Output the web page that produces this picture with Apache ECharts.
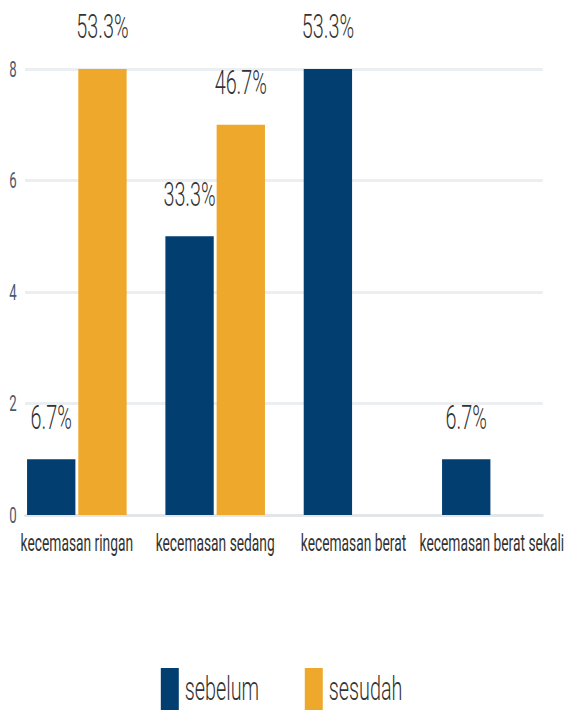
<!DOCTYPE html>
<html>
<head>
<meta charset="utf-8">
<script src="https://cdn.jsdelivr.net/npm/echarts@6/dist/echarts.min.js"></script>
<style>
html,body{margin:0;padding:0;overflow:hidden;background:#fff;width:566px;height:716px;}
#c{width:943.33px;height:716px;transform:scaleX(0.6);transform-origin:0 0;}
</style>
</head>
<body>
<div id="c"></div>
<script>
const categories = ['kecemasan ringan', 'kecemasan sedang', 'kecemasan berat', 'kecemasan berat sekali'];
const sebelum = [1, 5, 8, 1];
const sesudah = [8, 7, 0, 0];
const sebelumLabels = ['6.7%', '33.3%', '53.3%', '6.7%'];
const sesudahLabels = ['53.3%', '46.7%', '', ''];
const yTicks = [0, 2, 4, 6, 8];

const chart = echarts.init(document.getElementById('c'), null, {renderer: 'svg'});
const labelStyle = {
  show: true, position: 'top', distance: 25,
  fontFamily: 'Roboto', fontWeight: 300, fontSize: 33, color: '#333'
};
chart.setOption({
  animation: false,
  color: ['#023f70', '#eea92d'],
  grid: [
    {left: 41.7, right: 38.3, top: 69, bottom: 201},
    {left: 12.8, right: 6.1, top: 69, bottom: 201}
  ],
  legend: {
    data: ['sebelum', 'sesudah'],
    left: 263, bottom: 1,
    itemWidth: 30, itemHeight: 42, itemGap: 76,
    icon: 'rect',
    textStyle: {fontFamily: 'Roboto', fontWeight: 300, fontSize: 33, color: '#333', padding: [0, 0, 0, 5]}
  },
  xAxis: [
    {type: 'category', gridIndex: 0, data: categories,
     axisLine: {show: true, lineStyle: {color: '#e3e6e9', width: 3}},
     axisTick: {show: false}, axisLabel: {show: false}},
    {type: 'category', gridIndex: 1, data: categories,
     axisLine: {show: false}, axisTick: {show: false},
     axisLabel: {interval: 0, margin: 17, fontFamily: 'Roboto', fontSize: 23, color: '#333'}}
  ],
  yAxis: [
    {type: 'value', gridIndex: 0, min: yTicks[0], max: yTicks[yTicks.length - 1], interval: 2,
     axisLine: {show: false}, axisTick: {show: false},
     axisLabel: {margin: 14, fontFamily: 'Roboto', fontSize: 22, color: '#475a70'},
     splitLine: {lineStyle: {color: '#eceff1', width: 3}}},
    {type: 'value', gridIndex: 1, min: 0, max: 8, show: false}
  ],
  series: [
    {name: 'sebelum', type: 'bar', xAxisIndex: 1, yAxisIndex: 1,
     data: sebelum, barCategoryGap: '28%', barGap: '6%',
     label: Object.assign({}, labelStyle, {formatter: p => sebelumLabels[p.dataIndex]})},
    {name: 'sesudah', type: 'bar', xAxisIndex: 1, yAxisIndex: 1,
     data: sesudah, barCategoryGap: '28%', barGap: '6%',
     label: Object.assign({}, labelStyle, {formatter: p => sesudahLabels[p.dataIndex]})}
  ]
});
</script>
</body>
</html>
